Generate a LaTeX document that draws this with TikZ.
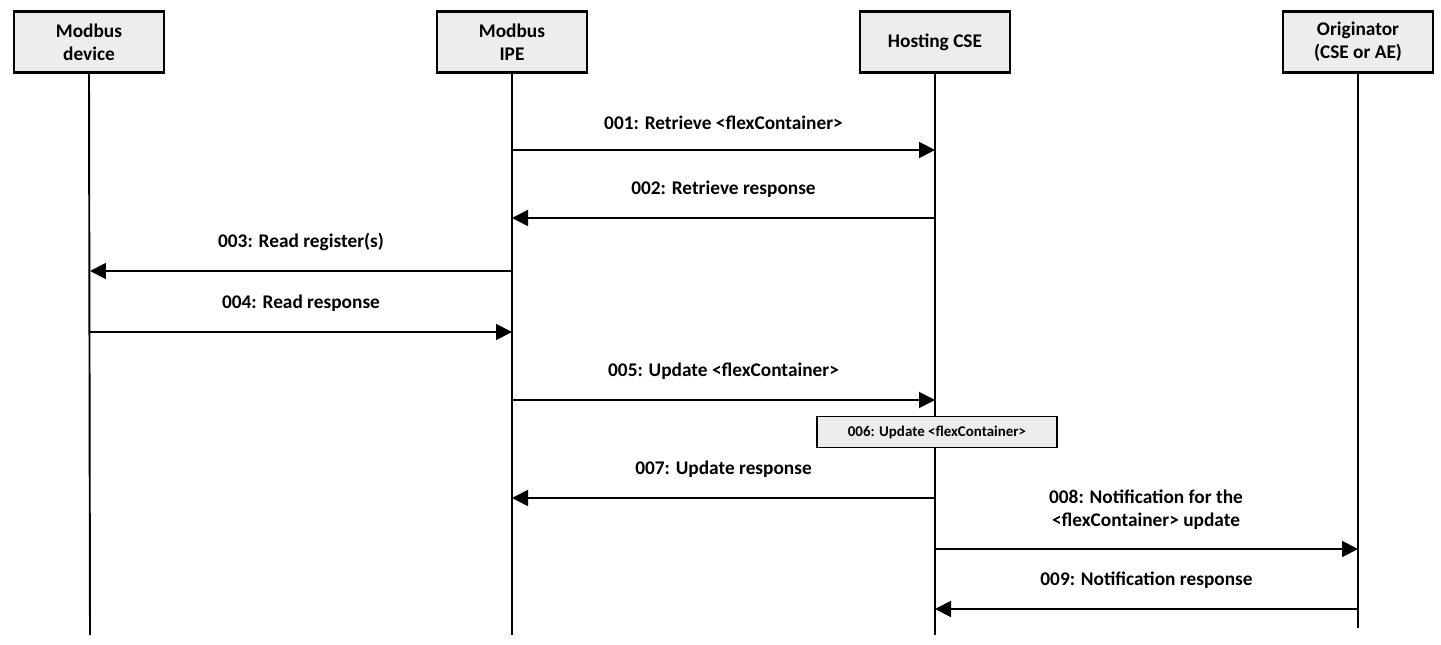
\documentclass[tikz,border=0pt]{standalone}
\usepackage{fontspec}
\setmainfont{Carlito}
\usetikzlibrary{arrows.meta}
\usetikzlibrary{positioning}

\begin{document}
\begin{tikzpicture}[x=0.02cm,y=-0.02cm,
  head/.style={draw,line width=1.4pt,fill=black!7,minimum width=3cm,minimum height=1.22cm,
    align=center,font=\bfseries\fontsize{11}{13}\selectfont},
  msg/.style={-{Triangle[length=3.2mm,width=3.2mm]},line width=1.1pt},
  life/.style={line width=1.1pt},
  lbl/.style={font=\bfseries\fontsize{11}{13}\selectfont,align=center}]
  \useasboundingbox (0,0) rectangle (1441,645);

  % heads
  \node[head] (dev) at (89,42) {Modbus\\device};
  \node[head] (ipe) at (512,42) {Modbus\\IPE};
  \node[head] (cse) at (935,42) {Hosting CSE};
  \node[head] (org) at (1358,42) {Originator\\(CSE or AE)};

  % lifelines
  \coordinate (devE) at (90,635);
  \coordinate (ipeE) at (512,635);
  \coordinate (cseE) at (935,635);
  \coordinate (orgE) at (1358,628);
  \draw[life] (dev.south) -- (devE);
  \draw[life] (ipe.south) -- (ipeE);
  \draw[life] (cse.south) -- (cseE);
  \draw[life] (org.south) -- (orgE);

  % messages
  \foreach \y/\a/\b/\t in {
      150/512/935/{001: Retrieve <flexContainer>},
      218/935/512/{002: Retrieve response},
      271/512/90/{003: Read register(s)},
      332/90/512/{004: Read response},
      400/512/935/{005: Update <flexContainer>},
      498/935/512/{007: Update response},
      609/1358/935/{009: Notification response}}{
    \draw[msg] (\a,\y) -- (\b,\y);
    \node[lbl,anchor=south] at ({(\a+\b)/2},\y-14) {\t};
  }
  \draw[msg] (935,549) -- (1358,549);
  \node[lbl,anchor=south] at (1146,536) {008: Notification for the\\<flexContainer> update};

  % local step
  \node[draw,line width=0.8pt,fill=black!7,minimum width=4.8cm,minimum height=0.62cm,
    font=\bfseries\fontsize{8.5}{10}\selectfont] (upd) at (937,432) {006: Update <flexContainer>};
\end{tikzpicture}
\end{document}
